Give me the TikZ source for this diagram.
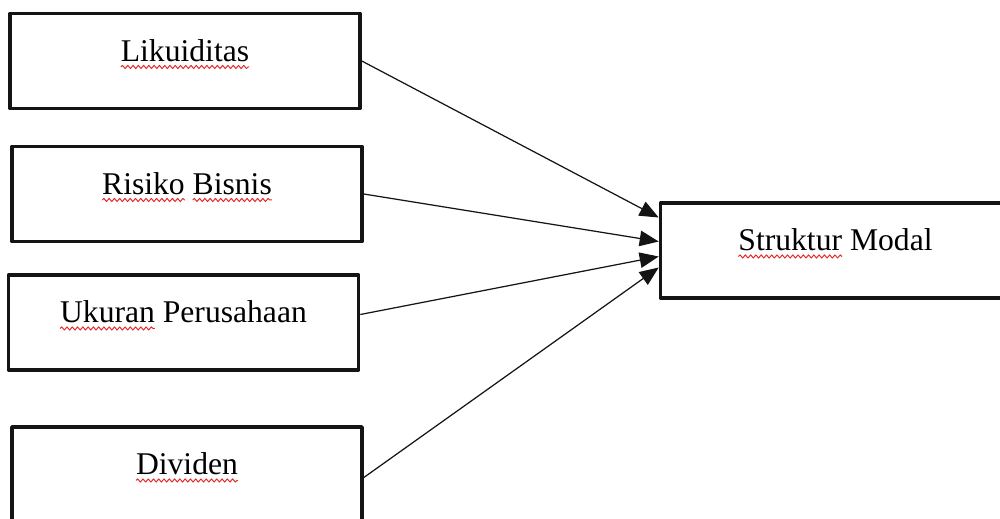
\documentclass[tikz,border=0pt]{standalone}
\usepackage{fontspec}
\setmainfont{Liberation Serif}
\usepackage{xcolor}
\usetikzlibrary{arrows.meta,calc,decorations.pathmorphing}
\definecolor{inkline}{RGB}{20,20,20}
\definecolor{spellred}{RGB}{230,40,40}
% red wavy underline, as the spell checker leaves it
\newcommand{\squig}[1]{\tikz[baseline=(w.base),x=1cm,y=1cm]{\node[inner sep=0pt,outer sep=0pt,minimum size=0pt,text height=,text depth=] (w) {#1};
  \draw[overlay,spellred,line width=0.55pt,decorate,decoration={snake,amplitude=0.9pt,segment length=3pt}] ([yshift=-3.4pt]w.base west) -- ([yshift=-3.4pt]w.base east);}}

\begin{document}
\begin{tikzpicture}[x=0.02cm,y=-0.02cm,line join=round,
  varbox/.style={draw=inkline,line width=2.1pt,fill=white,minimum width=7cm,minimum height=1.9cm,
    inner sep=0pt,text height=6pt,text depth=6pt,font=\fontsize{18}{20}\selectfont},
  link/.style={draw=inkline,line width=0.7pt,-{Triangle[length=3.8mm,width=3.1mm]}}]
  \clip (0,0) rectangle (1000,518);
  % four independent variables on the left
  \node[varbox] (liq)  at (185,61)  {\squig{Likuiditas}};
  \node[varbox] (risk) at (187,194) {\squig{Risiko} \squig{Bisnis}};
  \node[varbox] (size) at (183.5,322.5) {\squig{Ukuran} Perusahaan};
  \node[varbox] (div)  at (187,474.5)   {\squig{Dividen}};
  % dependent variable
  \node[varbox] (cap)  at (835.5,250.5) {\squig{Struktur} Modal};
  % arrows into the capital structure box
  \draw[link] (liq.east) -- ($(cap.west)+(0,-33)$);
  \draw[link] (risk.east) -- ($(cap.west)+(0,-9)$);
  \draw[link] ($(size.east)+(0,-8)$) -- ($(cap.west)+(0,6)$);
  \draw[link] ($(div.east)+(0,3)$) -- ($(cap.west)+(0,17)$);
\end{tikzpicture}
\end{document}
